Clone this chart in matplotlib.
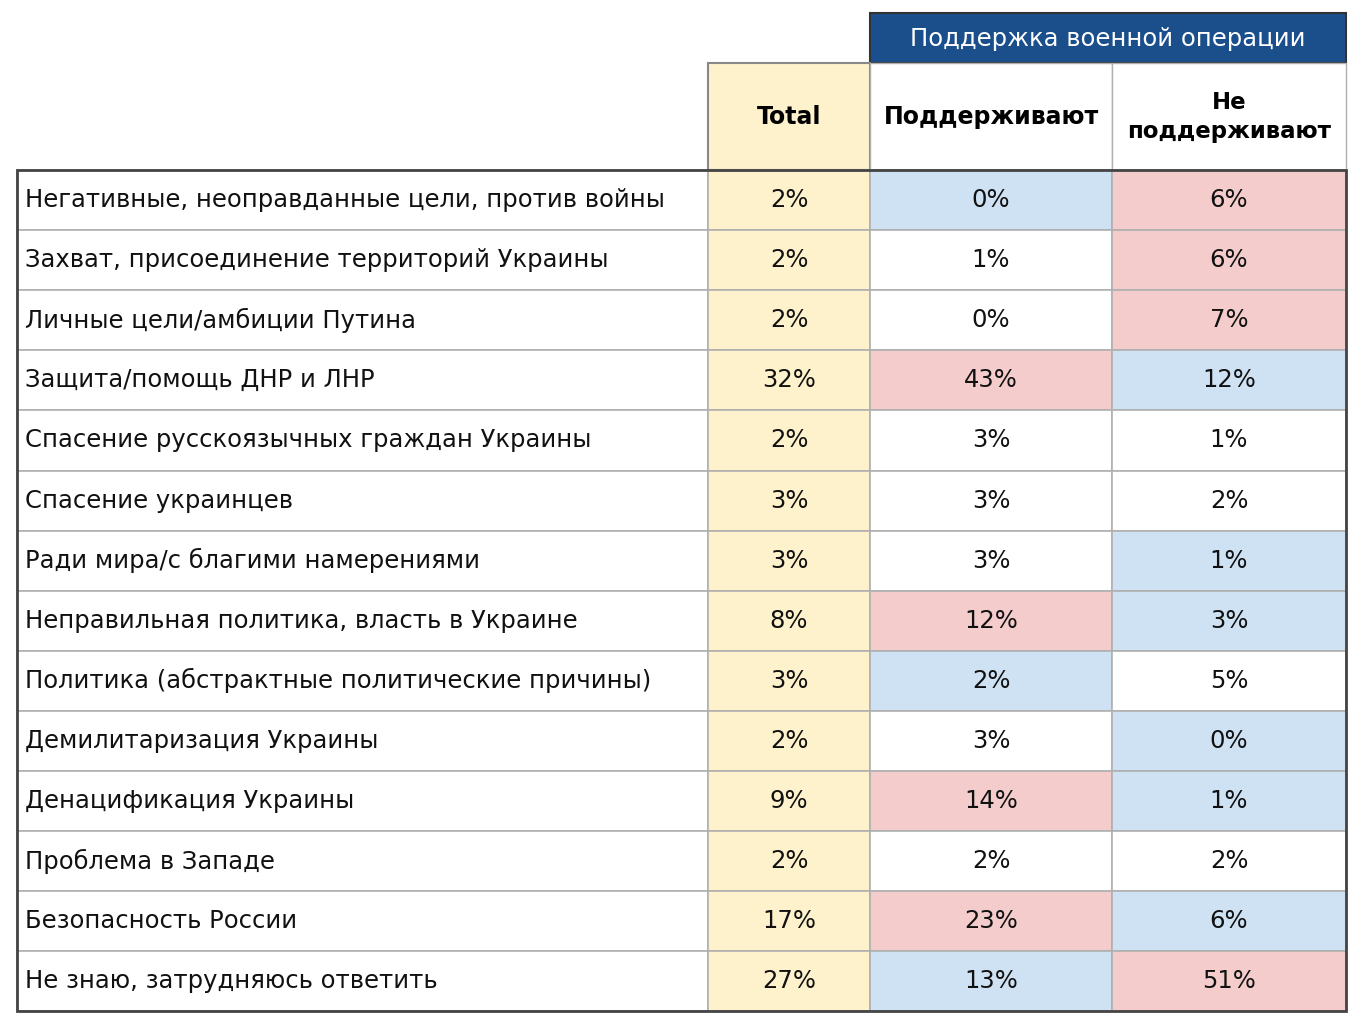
import matplotlib
matplotlib.use("Agg")
import matplotlib.pyplot as plt
from matplotlib.patches import Rectangle

labels = ["Негативные, неоправданные цели, против войны",
          "Захват, присоединение территорий Украины",
          "Личные цели/амбиции Путина",
          "Защита/помощь ДНР и ЛНР",
          "Спасение русскоязычных граждан Украины",
          "Спасение украинцев",
          "Ради мира/с благими намерениями",
          "Неправильная политика, власть в Украине",
          "Политика (абстрактные политические причины)",
          "Демилитаризация Украины",
          "Денацификация Украины",
          "Проблема в Западе",
          "Безопасность России",
          "Не знаю, затрудняюсь ответить"]
total = [2, 2, 2, 32, 2, 3, 3, 8, 3, 2, 9, 2, 17, 27]
support = [0, 1, 0, 43, 3, 3, 3, 12, 2, 3, 14, 2, 23, 13]
oppose = [6, 6, 7, 12, 1, 2, 1, 3, 5, 0, 1, 2, 6, 51]
# highlight: 1 = above, -1 = below, 0 = none
support_hl = [-1, 0, 0, 1, 0, 0, 0, 1, -1, 0, 1, 0, 1, -1]
oppose_hl = [1, 1, 1, -1, 0, 0, -1, -1, 0, -1, -1, 0, -1, 1]

hl_col = {1: "#f4cccc", -1: "#cfe2f3", 0: "white"}
yellow = "#fef2cc"
navy = "#1b4f8c"
grid = "#b0b0b0"

fig = plt.figure(figsize=(13.6, 10.29), dpi=100)
ax = fig.add_axes([0, 0, 1, 1])
ax.set_xlim(0, 1360)
ax.set_ylim(1029, 0)
ax.axis("off")

xs = [17, 708, 870, 1112, 1346]
top = 170
rh = 60.1
fs = 17.5

# header
ax.add_patch(Rectangle((870, 13), 476, 50, fc=navy, ec="#333333", lw=1.5))
ax.text(1108, 39, "Поддержка военной операции", color="white", ha="center", va="center", fontsize=17.5)
ax.add_patch(Rectangle((708, 63), 162, 107, fc=yellow, ec="#888888", lw=1.5))
ax.add_patch(Rectangle((870, 63), 242, 107, fc="white", ec=grid, lw=1))
ax.add_patch(Rectangle((1112, 63), 234, 107, fc="white", ec=grid, lw=1))
ax.text(789, 117, "Total", ha="center", va="center", fontsize=17, weight="bold")
ax.text(991, 117, "Поддерживают", ha="center", va="center", fontsize=17, weight="bold")
ax.text(1229, 117, "Не\nподдерживают", ha="center", va="center", fontsize=16.5, weight="bold", linespacing=1.3)

for i, lab in enumerate(labels):
    y = top + i * rh
    cols = ["white", yellow, hl_col[support_hl[i]], hl_col[oppose_hl[i]]]
    for j in range(4):
        ax.add_patch(Rectangle((xs[j], y), xs[j + 1] - xs[j], rh, fc=cols[j], ec=grid, lw=1.2))
    cy = y + rh / 2
    ax.text(25, cy, lab, ha="left", va="center", fontsize=fs, color="#111111")
    ax.text(789, cy, f"{total[i]}%", ha="center", va="center", fontsize=fs, color="#111111")
    ax.text(991, cy, f"{support[i]}%", ha="center", va="center", fontsize=fs, color="#111111")
    ax.text(1229, cy, f"{oppose[i]}%", ha="center", va="center", fontsize=fs, color="#111111")

bottom = top + len(labels) * rh
ax.add_patch(Rectangle((17, top), 1329, bottom - top, fc="none", ec="#444444", lw=2))

fig.savefig("out.png", dpi=100)
